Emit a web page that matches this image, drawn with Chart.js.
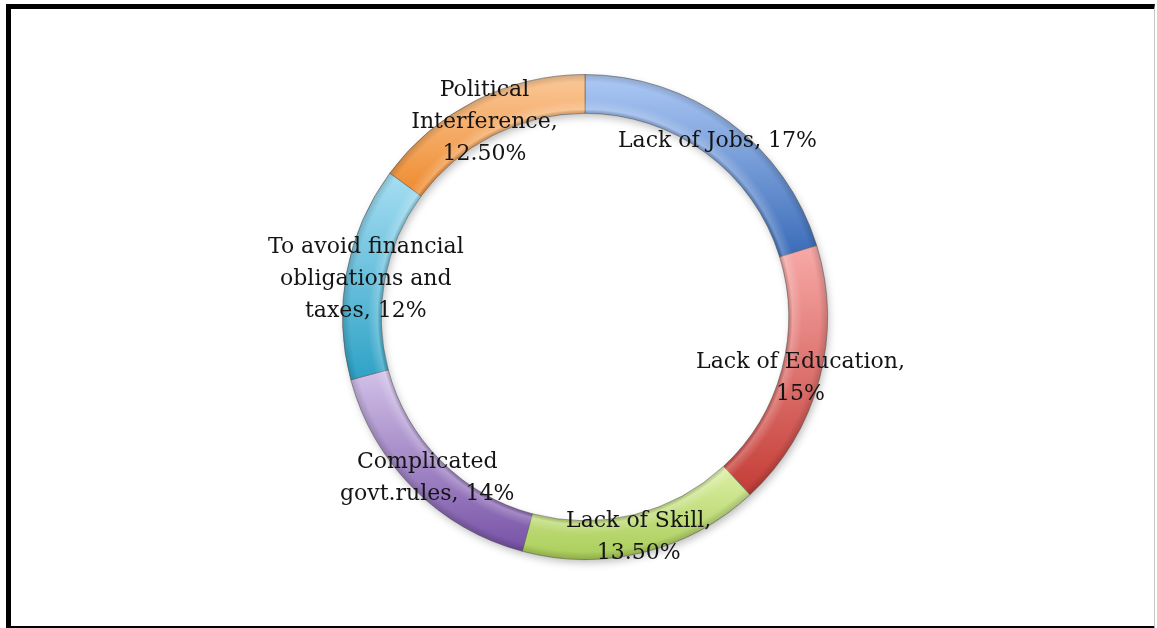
<!DOCTYPE html>
<html>
<head>
<meta charset="utf-8">
<script src="https://cdn.jsdelivr.net/npm/chart.js@4.4.1/dist/chart.umd.min.js"></script>
<style>
  html, body { margin: 0; padding: 0; background: #fff; overflow: hidden; width: 1157px; height: 628px; }
  #frame {
    position: absolute; left: 6px; top: 4px; width: 1149px; height: 627px; box-sizing: border-box;
    border-left: 5px solid #000; border-top: 5px solid #000; border-bottom: 5px solid #000;
    border-right: 1px solid #c8c8c8;
  }
  #chart { position: absolute; left: 0; top: 0; }
</style>
</head>
<body>
<div id="frame"></div>
<canvas id="chart" width="1157" height="628"></canvas>
<script>
// Reasons, their shares (in %), and the wrapped data-label text for each ring segment
const categories = [
  "Lack of Jobs",
  "Lack of Education",
  "Lack of Skill",
  "Complicated govt.rules",
  "To avoid financial obligations and taxes",
  "Political Interference"
];
const values = [17, 15, 13.5, 14, 12, 12.5];
const labelLines = [
  ["Lack of Jobs, 17%"],
  ["Lack of Education,", "15%"],
  ["Lack of Skill,", "13.50%"],
  ["Complicated", "govt.rules, 14%"],
  ["To avoid financial", "obligations and", "taxes, 12%"],
  ["Political", "Interference,", "12.50%"]
];
// Top (light) and bottom (dark) colours of each segment's vertical gradient
const lightColors = ["#adc9f5", "#f7aaa8", "#dcefa6", "#d2c1e8", "#a6def2", "#fac898"];
const darkColors  = ["#3a6bb8", "#c43c36", "#a9cd58", "#7752a6", "#2ea2c6", "#ee8a2e"];

const CUTOUT = 0.84;

function ringGeometry(chart) {
  const a = chart.chartArea;
  const cx = (a.left + a.right) / 2, cy = (a.top + a.bottom) / 2;
  const rOut = (Math.min(a.width, a.height) - 1) / 2;
  return { cx, cy, rOut, rIn: rOut * CUTOUT };
}

// Each segment gets a light-to-dark vertical gradient across its own height
function sliceGradient(ctx) {
  const chart = ctx.chart, i = ctx.dataIndex;
  if (!chart.chartArea || i === undefined) return darkColors[i || 0];
  const { cx, cy, rOut, rIn } = ringGeometry(chart);
  const total = values.reduce((s, v) => s + v, 0);
  let start = -Math.PI / 2;
  for (let k = 0; k < i; k++) start += values[k] / total * Math.PI * 2;
  const end = start + values[i] / total * Math.PI * 2;
  const ys = [];
  [start, end].forEach(t => { ys.push(cy + rOut * Math.sin(t), cy + rIn * Math.sin(t)); });
  [-Math.PI / 2, Math.PI / 2, Math.PI * 1.5].forEach(t => {
    if (t >= start && t <= end) ys.push(cy + rOut * Math.sin(t));
  });
  const y0 = Math.min(...ys), y1 = Math.max(...ys);
  const g = chart.ctx.createLinearGradient(0, y0, 0, y1 + 0.01);
  g.addColorStop(0, lightColors[i]);
  g.addColorStop(1, darkColors[i]);
  return g;
}

// Soft drop shadow under the ring, drawn before the segments
const ringShadow = {
  id: 'ringShadow',
  beforeDatasetsDraw(chart) {
    const { cx, cy, rOut, rIn } = ringGeometry(chart);
    const c = chart.ctx;
    c.save();
    c.shadowColor = 'rgba(0,0,0,0.28)';
    c.shadowBlur = 9;
    c.shadowOffsetX = 2;
    c.shadowOffsetY = 4;
    c.beginPath();
    c.arc(cx, cy, rOut - 1, 0, Math.PI * 2);
    c.arc(cx, cy, rIn + 1, Math.PI * 2, 0, true);
    c.fillStyle = '#ffffff';
    c.fill();
    c.restore();
  }
};

// Bevel shading across the ring thickness
const ringBevel = {
  id: 'ringBevel',
  afterDatasetsDraw(chart) {
    const { cx, cy, rOut, rIn } = ringGeometry(chart);
    const c = chart.ctx;
    c.save();
    const g = c.createRadialGradient(cx, cy, rIn, cx, cy, rOut);
    g.addColorStop(0, 'rgba(0,0,0,0.14)');
    g.addColorStop(0.1, 'rgba(255,255,255,0.22)');
    g.addColorStop(0.35, 'rgba(255,255,255,0)');
    g.addColorStop(0.8, 'rgba(0,0,0,0)');
    g.addColorStop(1, 'rgba(0,0,0,0.16)');
    c.beginPath();
    c.arc(cx, cy, rOut, 0, Math.PI * 2);
    c.arc(cx, cy, rIn, Math.PI * 2, 0, true);
    c.fillStyle = g;
    c.fill();
    c.restore();
  }
};

// Data labels centred on each segment
const segmentLabels = {
  id: 'segmentLabels',
  afterDatasetsDraw(chart) {
    const c = chart.ctx;
    const meta = chart.getDatasetMeta(0);
    c.save();
    c.font = '22px "DejaVu Serif", serif';
    c.fillStyle = '#141414';
    c.textAlign = 'center';
    c.textBaseline = 'middle';
    const lh = 32;
    meta.data.forEach((arc, i) => {
      const p = arc.tooltipPosition();
      const lines = labelLines[i];
      const y0 = p.y + 4 - (lines.length - 1) * lh / 2;
      lines.forEach((t, j) => c.fillText(t, p.x, y0 + j * lh));
    });
    c.restore();
  }
};

new Chart(document.getElementById('chart'), {
  type: 'doughnut',
  data: {
    labels: categories,
    datasets: [{
      data: values,
      backgroundColor: sliceGradient,
      borderColor: 'rgba(90,90,90,0.55)',
      borderWidth: 1
    }]
  },
  options: {
    responsive: false,
    animation: false,
    cutout: (CUTOUT * 100) + '%',
    layout: { padding: { top: 74, bottom: 68, left: 100, right: 87 } },
    plugins: {
      legend: { display: false },
      tooltip: { enabled: false }
    }
  },
  plugins: [ringShadow, ringBevel, segmentLabels]
});
</script>
</body>
</html>
